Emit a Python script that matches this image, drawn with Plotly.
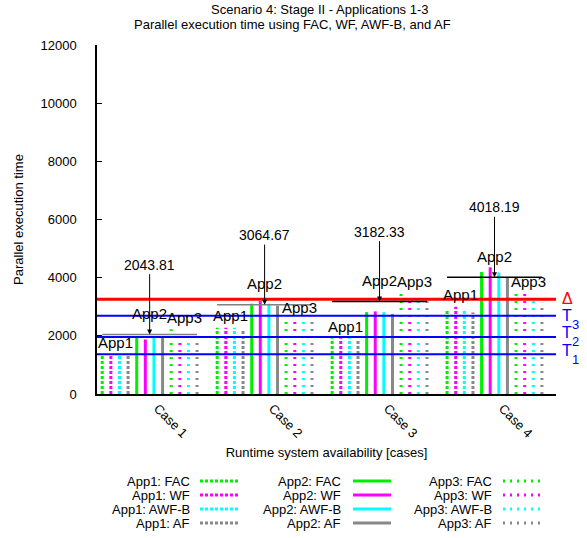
import plotly.graph_objects as go

# ---------------- data ----------------
cases = ["Case 1", "Case 2", "Case 3", "Case 4"]
case_pos = [1, 2, 3, 4]
apps = ["App1", "App2", "App3"]
methods = ["FAC", "WF", "AWF-B", "AF"]

app1_fac = [1340, 2280, 1915, 2925]
app1_wf = [1340, 2280, 1915, 3000]
app1_awfb = [1340, 2280, 1915, 2925]
app1_af = [1320, 2235, 1890, 2800]

app2_fac = [1960, 3105, 2815, 4195]
app2_wf = [1875, 3195, 2840, 4355]
app2_awfb = [1960, 3105, 2815, 4180]
app2_af = [1960, 3040, 2755, 4015]

app3_fac = [2225, 2545, 3440, 3440]
app3_wf = [2135, 2545, 3350, 3440]
app3_awfb = [2135, 2545, 3350, 3340]
app3_af = [2065, 2475, 3255, 3140]

case_values = [2043.81, 3064.67, 3182.33, 4018.19]

threshold_base = ["Δ", "T", "T", "T"]
threshold_sub = ["", "3", "2", "1"]
threshold_values = [3256, 2693, 1960, 1365]

y_ticks = [0, 2000, 4000, 6000, 8000, 10000, 12000]
y_ticktext = ["0", "2000", "4000", "6000", "8000", "10000", "12000"]

series = [
    [app1_fac, app1_wf, app1_awfb, app1_af],
    [app2_fac, app2_wf, app2_awfb, app2_af],
    [app3_fac, app3_wf, app3_awfb, app3_af],
]

# ---------------- styles ----------------
colors = ["#00ee00", "#ff00ff", "#00ffff", "#888888"]
dashes = ["3px,2px", "solid", "2px,5px"]
threshold_colors = ["#ff0000", "#0000ff", "#0000ff", "#0000ff"]
threshold_widths = [3, 2, 2, 2]
threshold_label_shift = [1, 0, 5, 4]
group_line_colors = ["#808080", "#808080", "#000000", "#000000"]
FONT = "Liberation Sans, Arial, Helvetica, sans-serif"
step = 0.075
half = 5.5 * step

L, R, T, B = 97, 31, 45, 144
W, H = 587, 538
pw, ph = W - L - R, H - T - B


def px2paper_x(px):
    return (px - L) / pw


def px2paper_y(py):
    return (H - B - py) / ph


fig = go.Figure()

for a, app in enumerate(apps):
    for m, meth in enumerate(methods):
        k = a * 4 + m
        vals = series[a][m]
        xs, ys = [], []
        for c, v in zip(case_pos, vals):
            xp = c + (k - 5.5) * step
            xs += [xp, xp, None]
            ys += [0, v, None]
        fig.add_trace(go.Scatter(
            x=xs, y=ys, mode="lines", name=f"{app}: {meth}",
            line=dict(color=colors[m], width=3, dash=dashes[a]),
            showlegend=False, hoverinfo="skip"))

shapes = []
annotations = []

# threshold lines
for base, sub, val, col, wd, sh in zip(threshold_base, threshold_sub, threshold_values,
                                       threshold_colors, threshold_widths, threshold_label_shift):
    shapes.append(dict(type="line", xref="paper", yref="y", x0=0, x1=1, y0=val, y1=val,
                       line=dict(color=col, width=wd), layer="above"))
    annotations.append(dict(xref="paper", yref="y", x=1.01, y=val, text=base,
                            showarrow=False, xanchor="left", yanchor="middle", yshift=sh,
                            borderpad=0,
                            font=dict(family=FONT, size=16, color=col)))
    if sub:
        annotations.append(dict(xref="paper", yref="y", x=1.01, y=val, text=sub,
                                showarrow=False, xanchor="left", yanchor="middle",
                                xshift=10, yshift=sh - 9, borderpad=0,
                                font=dict(family=FONT, size=13, color=col)))

# group value lines, arrows and app labels
for i, (c, v) in enumerate(zip(case_pos, case_values)):
    shapes.append(dict(type="line", xref="x", yref="y", x0=c - half, x1=c + half, y0=v, y1=v,
                       line=dict(color=group_line_colors[i], width=1.5), layer="above"))
    annotations.append(dict(xref="x", yref="y", x=c, y=v, ax=c, ay=v + 2400,
                            axref="x", ayref="y", text=f"{v:.2f}", showarrow=True,
                            arrowhead=2, arrowsize=1, arrowwidth=1, arrowcolor="black",
                            font=dict(family=FONT, size=14, color="black")))
    for a, app in enumerate(apps):
        center = c + (a * 4 + 1.5 - 5.5) * step
        if a == 1:
            ly = v + 720
        else:
            ly = max(s[i] for s in series[a]) + 420
        annotations.append(dict(xref="x", yref="y", x=center, y=ly, text=app,
                                showarrow=False, xanchor="center", yanchor="middle",
                                font=dict(family=FONT, size=15, color="black")))

# titles
annotations.append(dict(xref="paper", yref="paper", x=px2paper_x(320), y=px2paper_y(10),
                        text="Scenario 4: Stage II - Applications 1-3", showarrow=False,
                        xanchor="center", yanchor="middle",
                        font=dict(family=FONT, size=13, color="black")))
annotations.append(dict(xref="paper", yref="paper", x=px2paper_x(292.5), y=px2paper_y(25),
                        text="Parallel execution time using FAC, WF, AWF-B, and AF", showarrow=False,
                        xanchor="center", yanchor="middle",
                        font=dict(family=FONT, size=13, color="black")))

# manual legend
text_right = [192, 343, 494]
sample_x = [(200, 240), (353, 391), (503, 542)]
row_y = [481, 495, 509, 523]
for a, app in enumerate(apps):
    for m, meth in enumerate(methods):
        yp = px2paper_y(row_y[m])
        annotations.append(dict(xref="paper", yref="paper", x=px2paper_x(text_right[a]), y=yp,
                                text=f"{app}: {meth}", showarrow=False,
                                xanchor="right", yanchor="middle",
                                font=dict(family=FONT, size=13, color="black")))
        shapes.append(dict(type="line", xref="paper", yref="paper",
                           x0=px2paper_x(sample_x[a][0]), x1=px2paper_x(sample_x[a][1]),
                           y0=yp, y1=yp,
                           line=dict(color=colors[m], width=3, dash=dashes[a])))

fig.update_layout(
    width=W, height=H,
    margin=dict(l=L, r=R, t=T, b=B),
    plot_bgcolor="white", paper_bgcolor="white",
    font=dict(family=FONT, size=13, color="black"),
    shapes=shapes, annotations=annotations,
    showlegend=False,
    xaxis=dict(range=[0.542, 4.535], tickvals=case_pos, ticktext=cases, tickangle=45,
               showgrid=False, zeroline=False, showline=True, linecolor="black", linewidth=1.5,
               ticks="", ticklabelshift=8, tickfont=dict(family=FONT, size=13),
               title=dict(text="Runtime system availability [cases]",
                          font=dict(family=FONT, size=13), standoff=8)),
    yaxis=dict(range=[0, 12000], tickvals=y_ticks, ticktext=y_ticktext,
               showgrid=False, zeroline=False,
               showline=True, linecolor="black", linewidth=1.5,
               ticks="inside", ticklen=5, tickcolor="black", ticklabelstandoff=16,
               tickfont=dict(family=FONT, size=13),
               title=dict(text="Parallel execution time", font=dict(family=FONT, size=13),
                          standoff=14)),
)

fig.write_html("out.html")
